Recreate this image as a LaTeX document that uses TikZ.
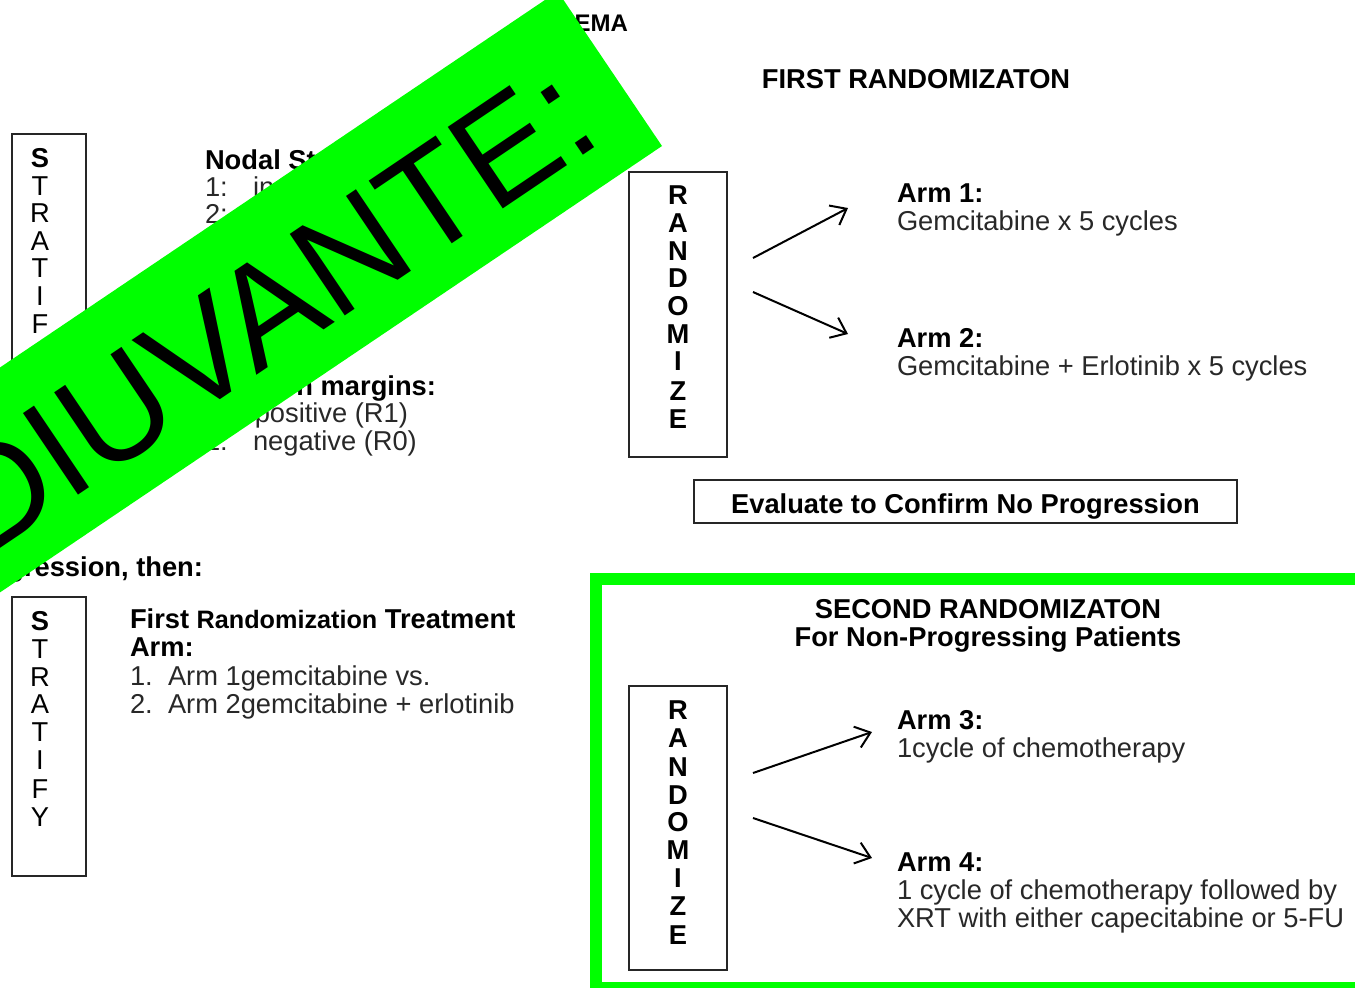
\documentclass[tikz,border=0pt]{standalone}
\usepackage{fontspec}
\setmainfont{Liberation Sans}
\usetikzlibrary{arrows.meta}

\definecolor{signgreen}{RGB}{0,255,0}
\definecolor{ink}{RGB}{40,40,40}

\newcommand{\txtsize}{\fontsize{13.65}{14}\selectfont}

\begin{document}
\begin{tikzpicture}[x=0.5pt,y=-0.5pt,
  every node/.style={inner sep=0pt,outer sep=0pt},
  reg/.style={font=\txtsize,text=ink,anchor=base west},
  bld/.style={font=\txtsize\bfseries,text=black,anchor=base west},
  letter/.style={font=\txtsize\bfseries,text=black,anchor=base},
  lightletter/.style={font=\txtsize,text=black,anchor=base},
  framebox/.style={draw=black!85,line width=1pt},
  flow/.style={draw=black,line width=1pt,-{Straight Barb[length=7pt,width=11pt,line width=1pt]}},
  sign/.style={fill=signgreen},
  signtext/.style={font=\fontsize{71.5}{72}\selectfont,text=black,rotate=34,anchor=base east}]

\useasboundingbox (0,0) rectangle (1355,987);
\clip (0,0) rectangle (1355,987);
\fill[white] (0,0) rectangle (1355,987);

% ---------- top half ----------
\node[bld,anchor=base east,font=\fontsize{12}{13}\selectfont\bfseries] (title) at (628,31) {EMA};
\node[bld,anchor=base] (first) at (916,88) {FIRST RANDOMIZATON};

% stratification box (upper)
\draw[framebox] (12,134) rectangle (86,415);
\node[letter] (sa1) at (40,167) {S};
\foreach \l/\y [count=\i] in {T/195,R/222,A/250,T/277,I/305,F/333}
  \node[lightletter] (sa\i x) at (40,\y) {\l};

\node[bld] (nodal) at (205,169) {Nodal St};
\node[reg] (n1) at (205,196) {1:};
\node[reg] (n1b) at (253,196) {in};
\node[reg] (n2) at (205,223) {2:};
\node[bld,anchor=base east] (marg) at (436,395) {n margins:};
\node[reg,anchor=base east] (pos) at (408,422) {positive (R1)};
\node[reg] (m2) at (205,450) {2:};
\node[reg] (neg) at (253,450) {negative (R0)};

% first randomisation
\draw[framebox] (629,172) rectangle (727,457);
\foreach \l/\y [count=\i] in {R/204,A/232,N/260,D/287,O/315,M/343,I/370,Z/400,E/428}
  \node[letter] (ra\i) at (678,\y) {\l};

\node[bld] (arm1) at (897,202) {Arm 1:};
\node[reg] (arm1t) at (897,230) {Gemcitabine x 5 cycles};
\node[bld] (arm2) at (897,347) {Arm 2:};
\node[reg] (arm2t) at (897,375) {Gemcitabine + Erlotinib x 5 cycles};

\coordinate (fa1) at (753,258);
\coordinate (fa1e) at (848,208);
\coordinate (fa2) at (753,292);
\coordinate (fa2e) at (848,334);
\draw[flow] (fa1) -- (fa1e);
\draw[flow] (fa2) -- (fa2e);

\draw[framebox] (694,480) rectangle (1237,523);
\node[bld,anchor=base] (eval) at (965.5,513) {Evaluate to Confirm No Progression};

% ---------- bottom half ----------
\node[bld,anchor=base east] (then) at (203,576) {gression, then:};

\draw[framebox] (12,597) rectangle (86,876);
\node[letter] (sb1) at (40,630) {S};
\foreach \l/\y [count=\i] in {T/658,R/686,A/713,T/741,I/769,F/798,Y/826}
  \node[lightletter] (sb\i x) at (40,\y) {\l};

\node[bld] (frt) at (130,628) {First {\fontsize{12.6}{14}\selectfont Randomization} Treatment};
\node[bld] (frarm) at (130,656) {Arm:};
\node[reg] (o1) at (130,685) {1.};
\node[reg] (o1t) at (168,685) {Arm 1gemcitabine vs.};
\node[reg] (o2) at (130,713) {2.};
\node[reg] (o2t) at (168,713) {Arm 2gemcitabine + erlotinib};

% second randomisation, framed in green
\draw[signgreen,line width=6pt] (596,579) rectangle (1380,988);
\node[bld,anchor=base] (second) at (988,618) {SECOND RANDOMIZATON};
\node[bld,anchor=base] (nonprog) at (988,646) {For Non-Progressing Patients};

\draw[framebox] (629,686) rectangle (727,970);
\foreach \l/\y [count=\i] in {R/719,A/747,N/776,D/804,O/831,M/859,I/887,Z/915,E/944}
  \node[letter] (rb\i) at (678,\y) {\l};

\node[bld] (arm3) at (897,729) {Arm 3:};
\node[reg] (arm3t) at (897,757) {1cycle of chemotherapy};
\node[bld] (arm4) at (897,871) {Arm 4:};
\node[reg] (arm4t) at (897,899) {1 cycle of chemotherapy followed by};
\node[reg] (arm4u) at (897,927) {XRT with either capecitabine or 5-FU};

\coordinate (sa) at (753,773);
\coordinate (sae) at (872,732);
\coordinate (sb) at (753,818);
\coordinate (sbe) at (872,858);
\draw[flow] (sa) -- (sae);
\draw[flow] (sb) -- (sbe);

% ---------- diagonal banner ----------
\fill[sign] (662,146) -- (557.7,-8.6) -- (-271.3,550.4) -- (-167,705) -- cycle;
\node[signtext] (bannertext) at (605.6,140) {DIUVANTE:};

\end{tikzpicture}
\end{document}
